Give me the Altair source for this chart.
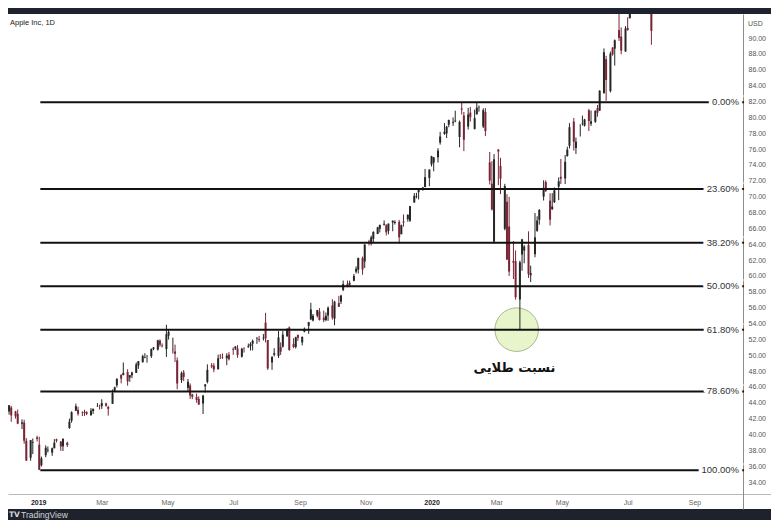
import altair as alt
import pandas as pd

# ---- candle data (2-trading-day candles, Dec 2018 - Jul 2020) ----
first_bar = "2018-12-03"
opens = [
    46.10, 42.90, 43.40, 42.90, 42.60, 41.36, 41.50, 39.20, 37.07, 38.96,
    39.63, 38.72, 36.13, 37.39, 37.99, 37.71, 38.27, 39.40, 39.10, 38.50,
    38.95, 40.81, 41.74, 43.00, 43.10, 42.76, 42.85, 42.81, 42.43, 42.95,
    43.54, 43.30, 43.57, 43.92, 43.47, 43.87, 45.50, 46.21, 47.51, 47.51,
    47.88, 47.19, 47.46, 47.77, 48.70, 49.11, 49.67, 49.80, 49.87, 50.78,
    50.71, 51.84, 51.23, 50.77, 52.46, 50.69, 50.47, 49.35, 46.86, 47.84,
    45.88, 46.17, 45.05, 44.73, 44.49, 43.90, 46.07, 46.63, 48.72, 48.67,
    48.22, 49.92, 49.70, 49.61, 50.07, 50.79, 50.83, 50.84, 49.80, 50.86,
    51.02, 51.14, 51.45, 52.12, 52.04, 52.12, 54.11, 51.91, 49.08, 50.05,
    49.91, 51.03, 51.07, 52.40, 53.50, 51.42, 51.03, 52.54, 51.61, 52.97,
    53.71, 54.52, 54.37, 54.99, 55.50, 54.74, 54.43, 55.00, 56.27, 54.61,
    56.57, 56.76, 58.24, 59.00, 58.90, 59.38, 60.53, 60.79, 62.24, 61.81,
    64.33, 64.19, 64.67, 65.28, 65.94, 66.45, 66.39, 65.68, 66.74, 66.67,
    66.82, 65.27, 66.87, 67.15, 66.95, 69.25, 69.95, 70.56, 71.17, 71.21,
    72.36, 74.06, 74.29, 74.96, 76.81, 77.91, 77.96, 79.07, 79.30, 79.48,
    77.51, 81.11, 80.23, 78.83, 80.59, 78.54, 80.37, 81.19, 78.84, 80.66,
    74.32, 71.63, 64.32, 75.92, 73.88, 65.94, 69.35, 66.22, 61.88, 61.85,
    57.02, 62.69, 63.19, 63.90, 60.08, 62.73, 65.68, 67.08, 70.00, 71.85,
    69.49, 68.40, 69.30, 71.27, 72.49, 72.29, 75.11, 76.41, 79.46, 76.13,
    78.29, 79.17, 78.94, 80.88, 79.19, 79.44, 81.16, 80.84, 83.04, 87.33,
    83.31, 88.79, 88.66, 91.00, 90.18, 88.31, 91.28, 92.50, 93.85, 96.26,
    97.26, 98.99, 96.99, 99.17, 96.99,
]
highs = [
    46.30, 43.70, 43.60, 42.98, 43.14, 41.90, 41.86, 39.54, 39.31, 39.49,
    39.84, 39.71, 37.21, 38.63, 38.49, 38.35, 39.41, 39.47, 39.18, 39.53,
    39.08, 42.00, 42.92, 43.89, 43.49, 42.92, 43.12, 42.93, 43.33, 43.25,
    43.96, 43.75, 44.44, 44.00, 43.61, 45.67, 46.03, 47.10, 47.60, 49.08,
    48.22, 47.44, 47.92, 49.09, 49.27, 50.06, 50.25, 50.03, 50.85, 51.04,
    51.94, 52.00, 51.49, 53.83, 53.16, 52.21, 51.33, 49.71, 47.94, 48.12,
    47.00, 46.44, 45.13, 45.15, 44.81, 45.00, 46.37, 48.84, 49.00, 48.99,
    50.07, 50.15, 50.21, 50.25, 50.39, 50.98, 51.11, 51.27, 50.93, 51.00,
    51.47, 51.63, 51.97, 52.29, 52.43, 52.66, 55.34, 51.91, 49.89, 50.88,
    53.04, 51.61, 53.03, 53.41, 53.61, 52.14, 52.33, 52.61, 52.37, 53.49,
    54.20, 56.61, 55.20, 55.71, 55.94, 55.62, 55.38, 56.15, 57.06, 56.87,
    57.48, 57.61, 59.41, 59.41, 59.40, 60.25, 61.20, 62.31, 62.44, 63.98,
    64.55, 65.09, 65.62, 66.19, 66.45, 67.00, 66.52, 66.61, 66.99, 67.00,
    67.06, 66.47, 67.75, 67.78, 68.83, 70.44, 70.48, 71.06, 71.22, 73.49,
    73.42, 75.15, 75.00, 76.11, 78.17, 79.27, 78.93, 79.68, 79.99, 80.83,
    79.60, 81.90, 80.67, 81.19, 81.31, 80.97, 81.90, 81.50, 81.14, 81.16,
    75.63, 74.47, 75.36, 76.00, 74.89, 71.61, 70.31, 69.98, 64.40, 63.21,
    61.92, 64.67, 63.88, 65.62, 61.29, 67.93, 67.52, 68.43, 72.06, 72.05,
    70.42, 70.44, 71.14, 72.42, 74.75, 75.25, 76.29, 79.26, 79.92, 77.45,
    79.13, 80.22, 79.81, 81.06, 80.86, 80.87, 81.55, 83.40, 88.69, 87.76,
    88.30, 88.85, 89.81, 93.10, 91.33, 91.50, 92.62, 93.95, 95.38, 96.32,
    99.96, 99.25, 98.50, 99.25, 97.08,
]
lows = [
    44.00, 42.50, 41.60, 42.00, 41.30, 40.68, 38.83, 36.65, 36.68, 37.52,
    39.12, 35.50, 35.95, 37.13, 37.72, 37.31, 38.25, 38.99, 37.93, 37.92,
    38.42, 40.72, 41.48, 42.95, 42.38, 42.33, 42.35, 42.44, 42.37, 42.58,
    43.49, 43.14, 43.22, 43.49, 42.38, 43.84, 45.34, 45.94, 46.45, 47.45,
    46.15, 46.64, 47.09, 47.75, 48.28, 49.08, 49.61, 49.05, 49.65, 50.63,
    50.58, 51.06, 50.97, 49.78, 51.97, 50.21, 49.14, 45.71, 46.50, 46.73,
    45.42, 44.48, 44.45, 44.01, 43.75, 42.57, 45.29, 46.44, 48.35, 47.85,
    48.20, 49.51, 49.54, 48.74, 49.34, 50.05, 50.67, 49.66, 49.70, 50.33,
    50.93, 50.59, 50.60, 51.42, 51.65, 51.85, 51.61, 48.15, 48.15, 49.85,
    49.65, 50.03, 50.97, 52.30, 50.55, 50.88, 50.83, 51.80, 51.23, 52.88,
    52.69, 54.42, 54.26, 54.76, 54.37, 54.16, 54.28, 54.33, 54.48, 53.78,
    56.09, 56.46, 58.08, 58.57, 58.60, 59.33, 60.31, 60.30, 60.14, 61.00,
    63.84, 63.84, 64.21, 65.27, 65.48, 66.35, 65.10, 65.25, 65.63, 66.47,
    64.07, 65.23, 66.23, 66.83, 66.82, 69.25, 69.78, 69.64, 70.73, 71.18,
    71.31, 73.80, 73.19, 74.29, 76.55, 77.79, 77.39, 78.75, 78.91, 79.38,
    76.22, 80.35, 75.73, 78.46, 79.46, 78.46, 80.37, 80.71, 78.65, 77.63,
    71.53, 68.24, 64.09, 71.45, 70.31, 65.75, 62.00, 60.00, 59.60, 57.00,
    53.15, 60.65, 61.59, 59.74, 59.22, 62.35, 65.56, 66.46, 69.51, 70.59,
    66.36, 68.33, 69.19, 69.55, 71.58, 71.58, 75.04, 76.07, 75.80, 75.38,
    77.58, 78.97, 78.84, 78.27, 78.91, 79.30, 80.08, 80.81, 83.00, 82.08,
    83.14, 87.77, 86.52, 89.63, 87.95, 88.26, 90.91, 92.47, 93.05, 94.67,
    93.88, 95.91, 95.84, 96.49, 89.14,
]
closes = [
    44.17, 43.68, 42.40, 42.28, 41.37, 41.52, 39.21, 36.71, 39.29, 39.06,
    39.44, 35.55, 36.98, 38.33, 38.07, 38.27, 38.97, 39.21, 38.48, 39.44,
    38.67, 41.61, 42.81, 43.56, 42.60, 42.72, 42.70, 42.61, 43.01, 43.24,
    43.58, 43.29, 43.96, 43.63, 43.23, 45.23, 45.93, 47.01, 47.04, 47.76,
    46.70, 47.49, 47.81, 48.84, 49.25, 49.88, 49.74, 49.81, 50.78, 50.97,
    51.87, 51.32, 51.15, 52.63, 52.94, 50.72, 50.18, 46.43, 47.73, 47.25,
    46.65, 44.92, 44.74, 44.35, 43.77, 44.91, 46.31, 48.15, 48.55, 48.19,
    49.61, 49.87, 49.65, 49.95, 49.48, 50.68, 51.10, 50.01, 50.81, 50.83,
    51.13, 51.42, 51.81, 52.17, 51.94, 52.20, 52.11, 48.33, 49.76, 50.25,
    52.24, 50.44, 52.59, 53.16, 50.66, 51.04, 52.25, 52.19, 52.30, 53.31,
    54.17, 55.77, 54.97, 55.69, 54.43, 54.42, 54.97, 55.99, 54.74, 56.75,
    56.10, 57.52, 58.97, 58.59, 59.10, 59.99, 60.90, 62.26, 60.81, 63.96,
    64.28, 64.86, 65.55, 66.12, 66.44, 66.57, 65.50, 66.59, 66.96, 66.81,
    64.86, 66.39, 66.73, 67.69, 68.79, 70.10, 70.01, 71.00, 71.07, 72.45,
    73.41, 75.09, 74.95, 75.80, 77.58, 78.17, 78.81, 79.68, 79.43, 79.58,
    79.42, 80.97, 77.17, 80.36, 80.01, 79.90, 81.22, 81.24, 80.90, 78.26,
    72.02, 68.38, 74.70, 75.68, 72.26, 71.33, 62.06, 60.55, 61.67, 57.31,
    61.72, 64.61, 63.70, 60.23, 60.35, 64.86, 66.99, 68.31, 71.11, 70.70,
    67.09, 68.76, 70.79, 71.93, 72.27, 74.39, 75.93, 78.75, 76.91, 76.93,
    78.29, 79.21, 79.72, 79.53, 79.49, 80.83, 80.58, 83.36, 88.21, 84.70,
    88.02, 87.93, 89.72, 90.01, 88.41, 91.20, 91.03, 93.46, 95.34, 95.92,
    97.06, 96.52, 98.36, 97.27, 90.90,
]

# ---- Fibonacci retracement ----
fib_labels = ["0.00%", "23.60%", "38.20%", "50.00%", "61.80%", "78.60%", "100.00%"]
fib_prices = [81.90, 70.95, 64.18, 58.70, 53.22, 45.43, 35.50]
fib_start = "2019-01-03"
fib_end = "2020-10-17"

# ---- axes ----
price_ticks = [34, 36, 38, 40, 42, 44, 46, 48, 50, 52, 54, 56, 58, 60, 62,
               64, 66, 68, 70, 72, 74, 76, 78, 80, 82, 84, 86, 88, 90]
month_ticks = ["2019-01-01", "2019-03-01", "2019-05-01", "2019-07-01",
               "2019-09-01", "2019-11-01", "2020-01-01", "2020-03-01",
               "2020-05-01", "2020-07-01", "2020-09-01"]

# ---- annotation ----
note_text = "نسبت طلایی"
note_date = "2020-03-18"
note_price = 48.4
circle_date = "2020-03-20"
circle_price = 53.22

title_text = "Apple Inc, 1D"

W, H = 763, 495
BG = "#1e222d"
UP, DOWN = "#262626", "#7a2535"


def dt(s):
    t = pd.Timestamp(s)
    return alt.DateTime(year=t.year, month=t.month, date=t.day)


x_scale = alt.Scale(domain=[dt("2018-12-04"), dt("2020-11-11")])
y_scale = alt.Scale(domain=[30.6, 93.03], nice=False, zero=False)

x_axis = alt.Axis(
    values=[dt(s) for s in month_ticks],
    labelExpr="month(datum.value) == 0 ? timeFormat(datum.value, '%Y') : timeFormat(datum.value, '%b')",
    offset=-15, ticks=False, grid=False, labelPadding=4,
    labelFontSize=7, labelFont="Liberation Sans",
    labelColor={"condition": {"test": "month(datum.value) == 0", "value": "#222222"}, "value": "#666666"},
    labelFontWeight={"condition": {"test": "month(datum.value) == 0", "value": "bold"}, "value": "normal"},
    labelOverlap=False, labelFlush=False,
    domainColor="#b8b8b8", domainWidth=1, title=None,
)
y_axis = alt.Axis(
    orient="right", offset=-28, values=price_ticks, format=".2f",
    ticks=False, grid=False, labelPadding=5, labelFontSize=7,
    labelFont="Liberation Sans", labelColor="#555555", labelOverlap=False,
    domainColor="#8c8c8c", domainWidth=1, title=None,
)

dates = pd.bdate_range(first_bar, periods=len(closes), freq="2B")
candles = pd.DataFrame({"date": dates, "open": opens, "high": highs,
                        "low": lows, "close": closes})
candles["dir"] = ["up" if c >= o else "down" for o, c in zip(opens, closes)]

color = alt.Color("dir:N", scale=alt.Scale(domain=["up", "down"], range=[UP, DOWN]), legend=None)

fib = pd.DataFrame({"label": fib_labels, "price": fib_prices,
                    "start": pd.Timestamp(fib_start), "end": pd.Timestamp(fib_end)})

circle_df = pd.DataFrame({"date": [pd.Timestamp(circle_date)], "price": [circle_price]})
note_df = pd.DataFrame({"date": [pd.Timestamp(note_date)], "price": [note_price], "t": [note_text]})

circle = alt.Chart(circle_df).mark_circle(
    size=1900, fill="#e4f3c2", fillOpacity=0.85, stroke="#a8b892", strokeWidth=1, strokeOpacity=1
).encode(
    x=alt.X("date:T", scale=x_scale, axis=x_axis),
    y=alt.Y("price:Q", scale=y_scale, axis=y_axis),
)

wicks = alt.Chart(candles).mark_rule(strokeWidth=1, clip=True).encode(
    x=alt.X("date:T", scale=x_scale, axis=x_axis),
    y=alt.Y("low:Q", scale=y_scale, axis=y_axis),
    y2="high:Q",
    color=color,
)
bodies = alt.Chart(candles).mark_rule(strokeWidth=2.0, clip=True).encode(
    x=alt.X("date:T", scale=x_scale, axis=x_axis),
    y=alt.Y("open:Q", scale=y_scale, axis=y_axis),
    y2="close:Q",
    color=color,
)

fib_lines = alt.Chart(fib).mark_rule(color="#111111", strokeWidth=2).encode(
    x=alt.X("start:T", scale=x_scale, axis=x_axis),
    x2="end:T",
    y=alt.Y("price:Q", scale=y_scale, axis=y_axis),
)
fib_halo = alt.Chart(fib).mark_text(
    align="right", baseline="middle", dx=-5, fontSize=9.5, font="Liberation Sans",
    fill="white", stroke="white", strokeWidth=7,
).encode(
    x=alt.X("end:T", scale=x_scale, axis=x_axis),
    y=alt.Y("price:Q", scale=y_scale, axis=y_axis),
    text="label:N",
)
fib_text = alt.Chart(fib).mark_text(
    align="right", baseline="middle", dx=-5, fontSize=9.5, font="Liberation Sans",
    color="#333333",
).encode(
    x=alt.X("end:T", scale=x_scale, axis=x_axis),
    y=alt.Y("price:Q", scale=y_scale, axis=y_axis),
    text="label:N",
)

note = alt.Chart(note_df).mark_text(
    fontSize=13, fontWeight="bold", font="DejaVu Sans", color="#111111",
    align="center", baseline="middle",
).encode(
    x=alt.X("date:T", scale=x_scale, axis=x_axis),
    y=alt.Y("price:Q", scale=y_scale, axis=y_axis),
    text="t:N",
)

title = alt.Chart(pd.DataFrame({"t": [title_text]})).mark_text(
    align="left", baseline="middle", fontSize=7.5, font="Liberation Sans", color="#222222"
).encode(x=alt.value(2), y=alt.value(9), text="t:N")

usd = alt.Chart(pd.DataFrame({"t": ["USD"]})).mark_text(
    align="left", baseline="middle", fontSize=7, font="Liberation Sans", color="#555555"
).encode(x=alt.value(740), y=alt.value(10), text="t:N")

tv_logo = alt.Chart(pd.DataFrame({"t": ["TV"]})).mark_text(
    align="left", baseline="middle", fontSize=7.5, fontWeight="bold",
    font="DejaVu Sans", color="#d1d4dc"
).encode(x=alt.value(1), y=alt.value(501), text="t:N")

tv_name = alt.Chart(pd.DataFrame({"t": ["TradingView"]})).mark_text(
    align="left", baseline="middle", fontSize=8.5, font="Liberation Sans", color="#d1d4dc"
).encode(x=alt.value(13), y=alt.value(501), text="t:N")

chart = alt.layer(
    circle, wicks, bodies, fib_lines, fib_halo, fib_text, note,
    title, usd, tv_logo, tv_name,
).properties(
    width=W, height=H,
    autosize=alt.AutoSizeParams(type="none"),
    padding={"left": 0, "top": 6, "right": 0, "bottom": 11},
    background=BG,
).configure_view(
    fill="white", stroke="white", strokeWidth=0,
)

chart.save("out.html", embed_options={"renderer": "svg", "actions": False})
